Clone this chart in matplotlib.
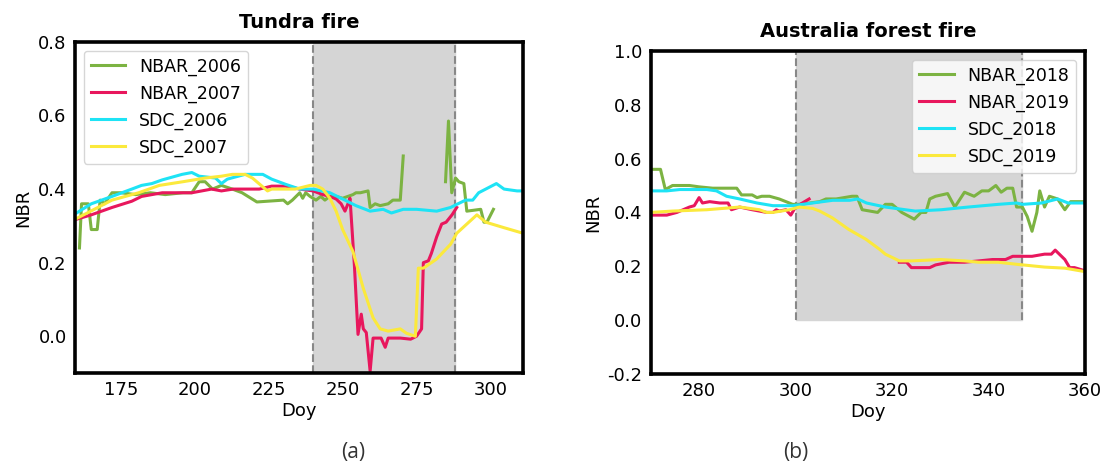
import numpy as np
import matplotlib
matplotlib.use("Agg")
import matplotlib.pyplot as plt

plt.rcParams['font.family'] = ['DejaVu Sans']
plt.rcParams['axes.unicode_minus'] = False

# ---------------- Panel (a): Tundra fire ----------------
a_nbar2006_day = [161, 161.7, 164, 165, 167, 168, 169.5, 172, 175, 180, 185, 190, 196, 199, 201.5, 203.5,
                  206, 209, 212.7, 216, 221, 230, 231.4, 233, 235.5, 236.5, 237.5, 239, 241, 242.6, 244,
                  245.6, 247.8, 250, 253.5, 254.5, 256, 258.6, 259.3, 261, 262.7, 265.4, 267, 269.5, 270.5,
                  277, 284.8, 285.8, 286.9, 288.2, 289.3, 291, 292, 296.7, 297.8, 298.8, 301]
a_nbar2006_val = [0.24, 0.36, 0.36, 0.29, 0.29, 0.37, 0.36, 0.39, 0.39, 0.385, 0.39, 0.385, 0.39, 0.39, 0.42, 0.42,
                  0.40, 0.41, 0.40, 0.39, 0.365, 0.37, 0.36, 0.37, 0.39, 0.375, 0.39, 0.38, 0.37, 0.38, 0.37,
                  0.38, 0.38, 0.375, 0.385, 0.39, 0.39, 0.395, 0.35, 0.36, 0.355, 0.36, 0.37, 0.37, 0.49,
                  np.nan, 0.42, 0.585, 0.39, 0.43, 0.42, 0.415, 0.34, 0.345, 0.31, 0.31, 0.345]

a_nbar2007_day = [160, 165, 172, 178.7, 182, 189, 195.7, 199, 205.7, 209, 213, 217, 221.8, 226, 230.7, 235.5,
                  240, 243.3, 245.7, 247.8, 249.5, 250.8, 251.8, 252.5, 254, 255.2, 256.3, 257, 258, 259.3,
                  260.3, 263, 264.4, 265.4, 269.5, 273, 275, 276.7, 277.3, 279, 280, 281.8, 283.5, 285, 287, 288.6]
a_nbar2007_val = [0.318, 0.33, 0.35, 0.367, 0.38, 0.39, 0.39, 0.39, 0.40, 0.395, 0.40, 0.40, 0.40, 0.408, 0.408, 0.40,
                  0.395, 0.385, 0.38, 0.373, 0.36, 0.34, 0.36, 0.375, 0.19, 0.005, 0.06, 0.02, 0.01, -0.095,
                  -0.005, -0.005, -0.03, -0.005, -0.005, -0.008, 0.0, 0.02, 0.20, 0.205, 0.225, 0.27, 0.305, 0.31, 0.33, 0.35]

a_sdc2006_day = [160, 165, 172, 178.7, 182, 185.5, 189, 195.7, 199, 201.5, 207, 209, 211, 217, 223, 226, 230.7,
                 235.5, 240, 245.7, 250, 254.5, 259.3, 263.7, 266.5, 270.5, 275, 281.8, 286.5, 289, 291.6, 294,
                 296, 302, 304.6, 309, 311]
a_sdc2006_val = [0.335, 0.36, 0.38, 0.40, 0.41, 0.415, 0.425, 0.44, 0.445, 0.435, 0.43, 0.415, 0.427, 0.44, 0.44,
                 0.427, 0.413, 0.40, 0.40, 0.39, 0.373, 0.355, 0.34, 0.345, 0.335, 0.345, 0.345, 0.34, 0.35, 0.36,
                 0.37, 0.37, 0.39, 0.415, 0.40, 0.395, 0.395]

a_sdc2007_day = [160, 172, 181, 188, 196, 203.5, 209, 212.7, 217, 219.5, 224.6, 226, 234, 239, 241, 243.3, 245.7,
                 247.8, 250, 253.5, 257, 260.3, 262.7, 265.4, 269.5, 271.6, 274.6, 275.6, 277.3, 281.8, 286.5,
                 288.6, 295.4, 298.4, 304.6, 311]
a_sdc2007_val = [0.32, 0.37, 0.39, 0.41, 0.42, 0.43, 0.435, 0.44, 0.44, 0.43, 0.395, 0.40, 0.40, 0.41, 0.41, 0.40,
                 0.375, 0.34, 0.29, 0.23, 0.13, 0.05, 0.02, 0.014, 0.02, 0.008, 0.0, 0.185, 0.185, 0.21, 0.25,
                 0.28, 0.33, 0.31, 0.295, 0.28]

a_fire_start, a_fire_end = 240, 288

# ---------------- Panel (b): Australia forest fire ----------------
b_nbar2018_day = [270, 272, 273, 274.5, 278, 280, 282.8, 285, 287.8, 288.8, 291, 292, 293, 294.6, 296.6, 298,
                  299.4, 300.8, 305, 306.3, 308.4, 311.7, 312.7, 313.8, 317, 318.6, 320, 322, 324.6, 326, 327,
                  327.8, 329, 331.5, 333, 335, 337, 338.6, 340, 341.5, 342.6, 343.8, 345, 345.8, 347, 348, 349,
                  350, 350.6, 351.6, 352.6, 354.3, 355.8, 357, 359, 360]
b_nbar2018_val = [0.56, 0.56, 0.485, 0.50, 0.50, 0.495, 0.49, 0.49, 0.49, 0.465, 0.465, 0.455, 0.46, 0.46, 0.45, 0.44,
                  0.43, 0.43, 0.44, 0.45, 0.45, 0.46, 0.46, 0.41, 0.40, 0.43, 0.43, 0.40, 0.375, 0.40, 0.40,
                  0.45, 0.46, 0.47, 0.42, 0.475, 0.46, 0.48, 0.48, 0.50, 0.475, 0.49, 0.49, 0.42, 0.42, 0.385, 0.33,
                  0.40, 0.48, 0.42, 0.46, 0.45, 0.41, 0.44, 0.44, 0.44]

b_nbar2019_day = [270, 273.3, 275.4, 278, 279, 280, 280.7, 282.2, 284.3, 286, 286.7, 288.4, 291, 294, 295.3,
                  296, 296.6, 298, 299, 300, 301.4, 302.8, 312, 321.5, 323, 324, 327.8, 329, 331.8, 335, 338,
                  340.8, 343.5, 345, 347, 349, 351.6, 353, 353.8, 355.8, 356.8, 357.8, 360]
b_nbar2019_val = [0.39, 0.39, 0.40, 0.42, 0.425, 0.455, 0.435, 0.44, 0.435, 0.435, 0.41, 0.42, 0.41, 0.40, 0.40,
                  0.41, 0.405, 0.41, 0.39, 0.42, 0.435, 0.45, np.nan, 0.215, 0.215, 0.195, 0.195, 0.205, 0.215,
                  0.215, 0.22, 0.225, 0.225, 0.237, 0.237, 0.237, 0.245, 0.245, 0.26, 0.225, 0.195, 0.195, 0.183]

b_sdc2018_day = [270, 273.3, 276, 281.6, 283.6, 285.7, 288.4, 292, 295.3, 299.4, 303.5, 307.7, 311.2, 312.9,
                 314.7, 318.6, 324.8, 330.2, 335.8, 342, 345.8, 347, 351, 354.3, 356.5, 360]
b_sdc2018_val = [0.48, 0.48, 0.485, 0.485, 0.48, 0.46, 0.45, 0.435, 0.425, 0.425, 0.435, 0.445, 0.445, 0.45,
                 0.435, 0.42, 0.405, 0.41, 0.42, 0.43, 0.435, 0.43, 0.435, 0.45, 0.435, 0.435]

b_sdc2019_day = [270, 274.5, 281.6, 288.4, 292.5, 294, 295.3, 298.7, 300.8, 303.5, 305, 307.6, 311, 314.6,
                 317.4, 318.6, 321.5, 324, 330, 335, 338, 342, 346, 351.6, 355.8, 360]
b_sdc2019_val = [0.40, 0.405, 0.41, 0.42, 0.41, 0.40, 0.40, 0.41, 0.42, 0.415, 0.405, 0.38, 0.337, 0.30,
                 0.263, 0.245, 0.22, 0.22, 0.225, 0.22, 0.215, 0.215, 0.207, 0.197, 0.193, 0.18]

b_fire_start, b_fire_end = 300, 347

labels_a = ['NBAR_2006', 'NBAR_2007', 'SDC_2006', 'SDC_2007']
labels_b = ['NBAR_2018', 'NBAR_2019', 'SDC_2018', 'SDC_2019']
colors = ['#7cb342', '#e8175d', '#1ee3f5', '#fbe93c']

fig = plt.figure(figsize=(11.05, 4.71), dpi=100)
ax1 = fig.add_axes([0.0679, 0.208, 0.4054, 0.703])
ax2 = fig.add_axes([0.589, 0.206, 0.393, 0.686])

LW = 2.2

def style(ax):
    for s in ax.spines.values():
        s.set_linewidth(2.6)
        s.set_color('black')
    ax.tick_params(axis='both', length=0, pad=6, labelsize=13)
    ax.set_xlabel('Doy', fontsize=13, labelpad=2)
    ax.set_ylabel('NBR', fontsize=13)

# Panel a
ax1.fill_between([a_fire_start, a_fire_end], -0.1, 0.8, color='#d5d5d5', zorder=0)
ax1.vlines([a_fire_start, a_fire_end], -0.1, 0.8, colors='#888888', linestyles='--', linewidth=1.5, zorder=1)
series_a = [(a_nbar2006_day, a_nbar2006_val), (a_nbar2007_day, a_nbar2007_val),
            (a_sdc2006_day, a_sdc2006_val), (a_sdc2007_day, a_sdc2007_val)]
for (d, v), c, lab in zip(series_a, colors, labels_a):
    ax1.plot(d, v, color=c, lw=LW, label=lab, zorder=2)
ax1.set_xlim(159.5, 311)
ax1.set_ylim(-0.1, 0.8)
ax1.set_xticks([175, 200, 225, 250, 275, 300])
ax1.set_yticks([0.0, 0.2, 0.4, 0.6, 0.8])
ax1.set_title('Tundra fire', fontsize=14, fontweight='bold', pad=10)
style(ax1)
ax1.legend(loc='upper left', fontsize=12.5, labelspacing=0.5, handlelength=2.0)

# Panel b
ax2.fill_between([b_fire_start, b_fire_end], 0.0, 1.0, color='#d5d5d5', zorder=0)
ax2.vlines([b_fire_start, b_fire_end], 0.0, 1.0, colors='#888888', linestyles='--', linewidth=1.5, zorder=1)
series_b = [(b_nbar2018_day, b_nbar2018_val), (b_nbar2019_day, b_nbar2019_val),
            (b_sdc2018_day, b_sdc2018_val), (b_sdc2019_day, b_sdc2019_val)]
for (d, v), c, lab in zip(series_b, colors, labels_b):
    ax2.plot(d, v, color=c, lw=LW, label=lab, zorder=2)
ax2.set_xlim(270, 360)
ax2.set_ylim(-0.2, 1.0)
ax2.set_xticks([280, 300, 320, 340, 360])
ax2.set_yticks([-0.2, 0.0, 0.2, 0.4, 0.6, 0.8, 1.0])
ax2.set_title('Australia forest fire', fontsize=14, fontweight='bold', pad=10)
style(ax2)
ax2.legend(loc='upper right', fontsize=12.5, labelspacing=0.5, handlelength=2.0)

fig.text(0.320, 0.028, '(a)', fontsize=15, family=['Open Sans', 'DejaVu Sans'], color='#333333', ha='center')
fig.text(0.720, 0.028, '(b)', fontsize=15, family=['Open Sans', 'DejaVu Sans'], color='#333333', ha='center')

fig.savefig('out.png', dpi=100)
